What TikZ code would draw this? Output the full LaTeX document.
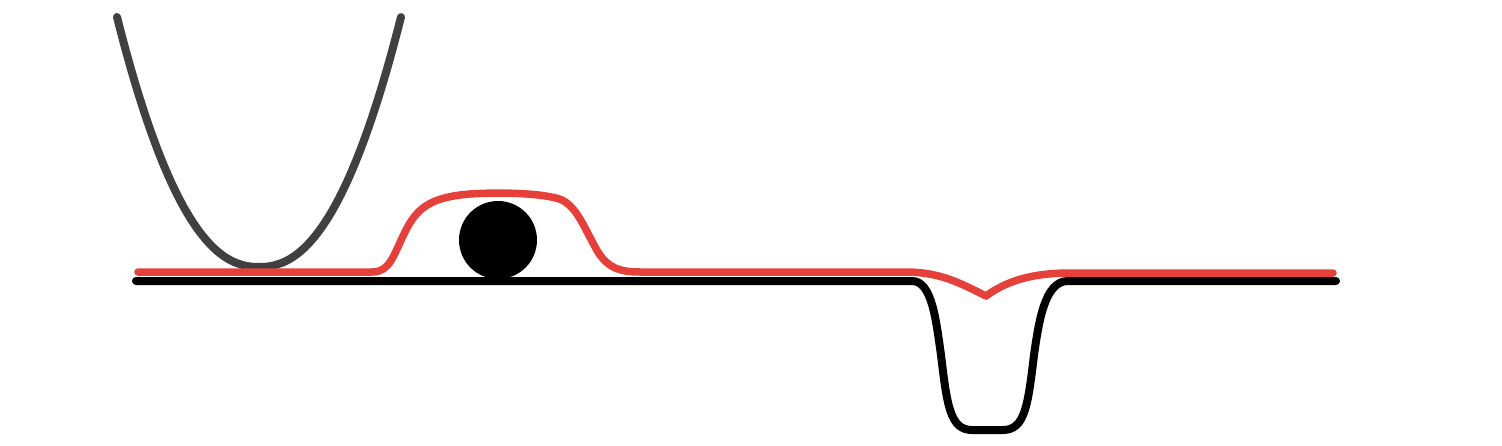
\documentclass[tikz,border=0pt]{standalone}
\usepackage{tikz}
\usetikzlibrary{calc}

\definecolor{wellgray}{HTML}{404040}
\definecolor{fieldred}{HTML}{E6403A}

\begin{document}
\begin{tikzpicture}[
    x=0.01cm, y=-0.01cm,
    ground/.style={draw=black, line width=0.08cm, line cap=round, line join=round},
    wall/.style={draw=wellgray, line width=0.08cm, line cap=round},
    field/.style={draw=fieldred, line width=0.075cm, line cap=round, line join=round},
]

% =============================================
% FRAME
% =============================================
\useasboundingbox (0,0) rectangle (1502,445);

% =============================================
% LEFT: well (slightly steeper than a parabola)
% =============================================
\draw[wall] plot[domain=117:401, samples=100]
    (\x, {267 - 250*(abs(\x-259)/142)^2.25});

% =============================================
% GROUND LINE with a deep notch
% =============================================
\draw[ground] (136,281) -- (912,281)
    .. controls (932,281) and (936,320) .. (941,355)
    .. controls (947,405) and (950,430) .. (972,430)
    -- (1003,430)
    .. controls (1025,430) and (1028,405) .. (1034,355)
    .. controls (1039,320) and (1045,281) .. (1068,281)
    -- (1336,281);

% =============================================
% BALL on the ground
% =============================================
\fill[black] (498,240) circle[radius=39];

% =============================================
% RED PROFILE: bump over the ball, dip over the notch
% =============================================
\draw[field] (138,272) -- (372,272)
    .. controls (390,272) and (393,256) .. (405,232)
    .. controls (417,207) and (432,197) .. (470,194)
    .. controls (500,192) and (545,193) .. (562,200)
    .. controls (578,208) and (585,230) .. (598,252)
    .. controls (608,268) and (620,272) .. (640,272)
    -- (905,272)
    .. controls (940,272) and (960,283) .. (986,296)
    .. controls (1005,282) and (1030,273) .. (1070,273)
    -- (1333,273);

\end{tikzpicture}
\end{document}
